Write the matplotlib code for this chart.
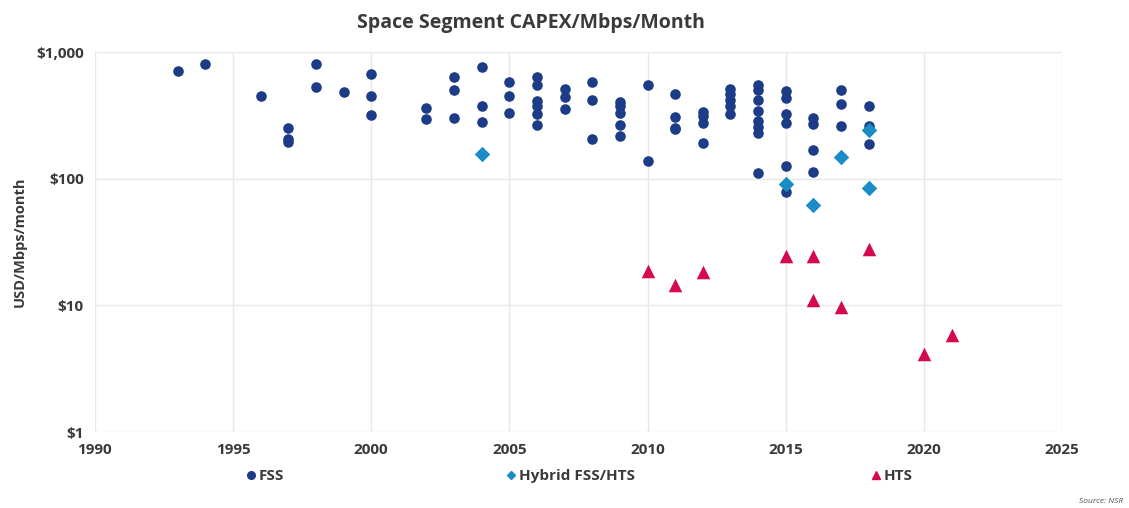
import matplotlib
matplotlib.use("Agg")
import matplotlib.pyplot as plt
from matplotlib.lines import Line2D
from matplotlib.ticker import FixedLocator, NullLocator

plt.rcParams['font.family'] = ['Open Sans', 'DejaVu Sans']

# ---- data ----
fss_year = [1993, 1994, 1996, 1997, 1997, 1997, 1998, 1998, 1999,
            2000, 2000, 2000, 2002, 2002, 2003, 2003, 2003,
            2004, 2004, 2004, 2005, 2005, 2005,
            2006, 2006, 2006, 2006, 2006, 2006,
            2007, 2007, 2007, 2008, 2008, 2008,
            2009, 2009, 2009, 2009, 2009, 2010, 2010,
            2011, 2011, 2011, 2011, 2012, 2012, 2012, 2012,
            2013, 2013, 2013, 2013, 2013,
            2014, 2014, 2014, 2014, 2014, 2014, 2014, 2014,
            2015, 2015, 2015, 2015, 2015, 2015,
            2016, 2016, 2016, 2016,
            2017, 2017, 2017,
            2018, 2018, 2018]
fss_value = [703, 800, 447, 250, 205, 195, 809, 530, 480,
             667, 447, 316, 359, 294, 639, 498, 299,
             762, 377, 278, 576, 447, 330,
             639, 549, 410, 372, 326, 267,
             510, 443, 356, 584, 415, 204,
             405, 372, 329, 267, 216, 553, 138,
             470, 308, 252, 245, 339, 313, 277, 193,
             511, 466, 420, 372, 325,
             553, 505, 420, 345, 283, 255, 231, 110,
             489, 433, 325, 274, 126, 78,
             300, 270, 168, 112,
             499, 388, 261,
             372, 261, 187]

hybrid_year = [2004, 2015, 2016, 2017, 2018, 2018]
hybrid_value = [156, 90, 62, 148, 242, 84]

hts_year = [2010, 2011, 2012, 2015, 2016, 2016, 2017, 2018, 2020, 2021]
hts_value = [18.8, 14.5, 18.4, 24.5, 24.5, 11.0, 9.75, 27.7, 4.1, 5.8]

x_ticks = [1990, 1995, 2000, 2005, 2010, 2015, 2020, 2025]
y_ticks = [1, 10, 100, 1000]
y_tick_labels = ['$1', '$10', '$100', '$1,000']

FSS_C = '#1c3c87'
HYB_C = '#1a8cc6'
HTS_C = '#d5094d'
TXT_C = '#3a3a3a'

fig = plt.figure(figsize=(11.29, 5.08), dpi=100)
ax = fig.add_axes([0.084, 0.1496, 0.8567, 0.748])

ax.scatter(fss_year, fss_value, s=58, marker='o', color=FSS_C, zorder=3, linewidths=0)
ax.scatter(hybrid_year, hybrid_value, s=62, marker='D', color=HYB_C, zorder=4, linewidths=0)
ax.scatter(hts_year, hts_value, s=95, marker='^', color=HTS_C, zorder=4, linewidths=0)

ax.set_yscale('log')
ax.set_xlim(1990, 2025)
ax.set_ylim(1, 1000)
ax.xaxis.set_major_locator(FixedLocator(x_ticks))
ax.yaxis.set_major_locator(FixedLocator(y_ticks))
ax.yaxis.set_minor_locator(NullLocator())
ax.set_yticklabels(y_tick_labels)
ax.set_xticklabels([str(t) for t in x_ticks])

for s in ax.spines.values():
    s.set_visible(False)
ax.grid(True, color='#e8e8e8', linewidth=1.0, zorder=0)
ax.set_axisbelow(True)
ax.tick_params(axis='both', length=0, labelsize=11, labelcolor=TXT_C, pad=8)
for lab in ax.get_xticklabels() + ax.get_yticklabels():
    lab.set_fontweight('bold')

ax.set_ylabel('USD/Mbps/month', fontsize=10.5, fontweight='bold', color=TXT_C, labelpad=7)

fig.text(0.47, 0.955, 'Space Segment CAPEX/Mbps/Month', ha='center', va='center',
         fontsize=14, fontweight='bold', color=TXT_C)

# legend entries placed individually
entries = [('FSS', 'o', FSS_C, 5.5, 0.203),
           ('Hybrid FSS/HTS', 'D', HYB_C, 4.5, 0.434),
           ('HTS', '^', HTS_C, 6, 0.757)]
for label, mk, col, ms, xpos in entries:
    h = Line2D([], [], marker=mk, color=col, linestyle='None', markersize=ms)
    leg = fig.legend([h], [label], loc='center left', bbox_to_anchor=(xpos, 0.063),
                     frameon=False, handletextpad=0.0, handlelength=1.0,
                     prop={'weight': 'bold', 'size': 11})
    for t in leg.get_texts():
        t.set_color(TXT_C)

fig.text(0.995, 0.006, 'Source: NSR', ha='right', va='bottom', fontsize=6,
         style='italic', color='#555555')

fig.savefig('out.png', dpi=100)
